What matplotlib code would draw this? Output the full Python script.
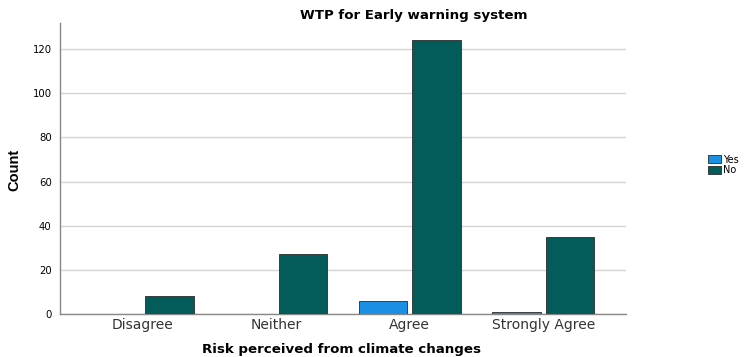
import numpy as np
import matplotlib.pyplot as plt

plt.rcParams["font.family"] = ["DejaVu Sans"]

categories = ["Disagree", "Neither", "Agree", "Strongly Agree"]
yes_counts = [0, 0, 6, 1]
no_counts = [8, 27, 124, 35]
series_names = ["Yes", "No"]

yes_color = "#1a8fe3"
no_color = "#035c5a"
edge_color = "#2b2b2b"

fig = plt.figure(figsize=(7.45, 3.57), dpi=100)
ax = fig.add_axes([60 / 745, 1 - 314 / 357, 566 / 745, 291 / 357])

x = np.arange(len(categories))
width = 0.365
offset = 0.2

ax.bar(x - offset, yes_counts, width, color=yes_color, edgecolor=edge_color,
       linewidth=0.6, label=series_names[0], zorder=3)
ax.bar(x + offset, no_counts, width, color=no_color, edgecolor=edge_color,
       linewidth=0.6, label=series_names[1], zorder=3)

ax.set_xlim(-0.62, 3.62)
ax.set_ylim(0, 131.8)
ax.set_yticks(range(0, 121, 20))
ax.set_xticks(x)
ax.set_xticklabels(categories, fontsize=10, color="#333333")
ax.tick_params(axis="y", labelsize=7.3, length=0, pad=6)
ax.tick_params(axis="x", length=0, pad=3)

ax.grid(axis="y", color="#d4d4d4", linewidth=1, zorder=0)
for side in ["top", "right"]:
    ax.spines[side].set_visible(False)
for side in ["left", "bottom"]:
    ax.spines[side].set_color("#888888")
    ax.spines[side].set_linewidth(1)

fig.text(414 / 745, 1 - 16 / 357, "WTP for Early warning system",
         ha="center", va="center", fontsize=9.6, fontweight="bold")
fig.text(341 / 745, 1 - 349 / 357, "Risk perceived from climate changes",
         ha="center", va="center", fontsize=9.6, fontweight="bold")
fig.text(14 / 745, 1 - 170 / 357, "Count", rotation=90, ha="center",
         va="center", fontsize=10.5, fontweight="bold",
         family=["Liberation Sans", "DejaVu Sans"])

fig.legend(loc="center left", bbox_to_anchor=(703 / 745, 1 - 165 / 357),
           frameon=False, fontsize=7, handlelength=1.3, handleheight=0.9,
           handletextpad=0.3, labelspacing=0.1, borderpad=0)

plt.savefig("out.png", dpi=100)
plt.close()
